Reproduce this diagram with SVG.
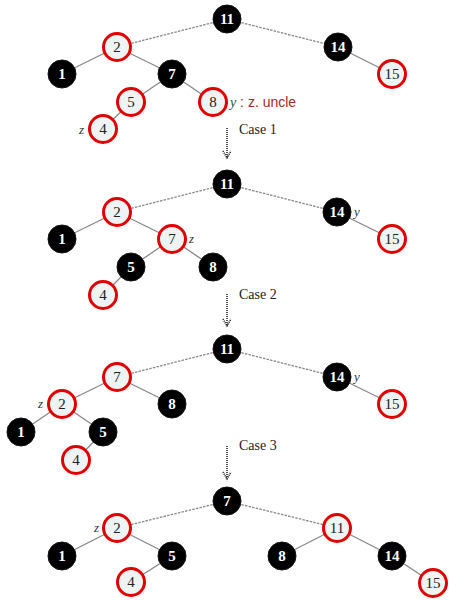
<svg xmlns="http://www.w3.org/2000/svg" width="474" height="602" viewBox="0 0 474 602">
<style>
.b circle{fill:#000;stroke:#111;stroke-width:1}
.r circle{fill:#eef3f3;stroke:#e00000;stroke-width:3}
.b text{fill:#fff;font-family:"Liberation Serif",serif;font-weight:bold;font-size:15px;text-anchor:middle}
.r text{fill:#222;font-family:"Liberation Serif",serif;font-size:15px;text-anchor:middle}
.d{stroke:#888;stroke-width:1.3;stroke-dasharray:2.5 1.2;fill:none}
.s{stroke:#888;stroke-width:1.3;fill:none}
.arr{stroke:#222;stroke-width:1.6;stroke-dasharray:1 1;fill:none}
.lbl{font-family:"Liberation Serif",serif;font-size:13px;fill:#333;font-style:italic}
.case{font-family:"Liberation Serif",serif;font-size:14px;fill:#222}
</style>
<g id="connectors">
<line class="d" x1="227" y1="19" x2="117" y2="47"/>
<line class="d" x1="227" y1="19" x2="338" y2="47"/>
<line class="s" x1="117" y1="47" x2="62" y2="74"/>
<line class="s" x1="117" y1="47" x2="172" y2="74"/>
<line class="s" x1="338" y1="47" x2="392" y2="74"/>
<line class="s" x1="172" y1="74" x2="131" y2="102"/>
<line class="s" x1="172" y1="74" x2="213" y2="102"/>
<line class="s" x1="131" y1="102" x2="103" y2="129"/>
<line class="d" x1="227" y1="184" x2="117" y2="212"/>
<line class="d" x1="227" y1="184" x2="337" y2="212"/>
<line class="s" x1="117" y1="212" x2="62" y2="239"/>
<line class="s" x1="117" y1="212" x2="172" y2="239"/>
<line class="s" x1="337" y1="212" x2="392" y2="239"/>
<line class="s" x1="172" y1="239" x2="131" y2="267"/>
<line class="s" x1="172" y1="239" x2="213" y2="267"/>
<line class="s" x1="131" y1="267" x2="103" y2="295"/>
<line class="d" x1="227" y1="349" x2="117" y2="377"/>
<line class="d" x1="227" y1="349" x2="337" y2="377"/>
<line class="s" x1="117" y1="377" x2="62" y2="404"/>
<line class="s" x1="117" y1="377" x2="172" y2="404"/>
<line class="s" x1="337" y1="377" x2="392" y2="404"/>
<line class="s" x1="62" y1="404" x2="21" y2="432"/>
<line class="s" x1="62" y1="404" x2="103" y2="432"/>
<line class="s" x1="103" y1="432" x2="76" y2="460"/>
<line class="d" x1="227" y1="501" x2="117" y2="528"/>
<line class="d" x1="227" y1="501" x2="337" y2="528"/>
<line class="s" x1="117" y1="528" x2="62" y2="556"/>
<line class="s" x1="117" y1="528" x2="172" y2="556"/>
<line class="s" x1="337" y1="528" x2="282" y2="556"/>
<line class="s" x1="337" y1="528" x2="392" y2="556"/>
<line class="s" x1="172" y1="556" x2="131" y2="582"/>
<line class="s" x1="392" y1="556" x2="433" y2="583"/>
<path class="arr" d="M227 128 V157 M223 151 L227 158 L231 151"/>
<path class="arr" d="M227 294 V325 M223 319 L227 326 L231 319"/>
<path class="arr" d="M227 446 V478 M223 472 L227 479 L231 472"/>
</g>
<g id="t1-11" class="b"><circle cx="227" cy="19" r="14"/><text x="227" y="24">11</text></g>
<g id="t1-2" class="r"><circle cx="117" cy="47" r="13.5"/><text x="117" y="52">2</text></g>
<g id="t1-14" class="b"><circle cx="338" cy="47" r="14"/><text x="338" y="52">14</text></g>
<g id="t1-1" class="b"><circle cx="62" cy="74" r="14"/><text x="62" y="79">1</text></g>
<g id="t1-7" class="b"><circle cx="172" cy="74" r="14"/><text x="172" y="79">7</text></g>
<g id="t1-15" class="r"><circle cx="392" cy="74" r="13.5"/><text x="392" y="79">15</text></g>
<g id="t1-5" class="r"><circle cx="131" cy="102" r="13.5"/><text x="131" y="107">5</text></g>
<g id="t1-8" class="r"><circle cx="213" cy="102" r="13.5"/><text x="213" y="107">8</text></g>
<g id="t1-4" class="r"><circle cx="103" cy="129" r="13.5"/><text x="103" y="134">4</text></g>
<text class="lbl" x="79" y="134">z</text>
<text x="230" y="107" style="font-family:'Liberation Sans',sans-serif;font-size:14px"><tspan style="font-family:'Liberation Serif',serif;font-style:italic;fill:#335533">y</tspan><tspan fill="#9c2b2b"> : z. uncle</tspan></text>
<text class="case" x="239" y="134">Case 1</text>
<g id="t2-11" class="b"><circle cx="227" cy="184" r="14"/><text x="227" y="189">11</text></g>
<g id="t2-2" class="r"><circle cx="117" cy="212" r="13.5"/><text x="117" y="217">2</text></g>
<g id="t2-14" class="b"><circle cx="337" cy="212" r="14"/><text x="337" y="217">14</text></g>
<g id="t2-1" class="b"><circle cx="62" cy="239" r="14"/><text x="62" y="244">1</text></g>
<g id="t2-7" class="r"><circle cx="172" cy="239" r="13.5"/><text x="172" y="244">7</text></g>
<g id="t2-15" class="r"><circle cx="392" cy="239" r="13.5"/><text x="392" y="244">15</text></g>
<g id="t2-5" class="b"><circle cx="131" cy="267" r="14"/><text x="131" y="272">5</text></g>
<g id="t2-8" class="b"><circle cx="213" cy="267" r="14"/><text x="213" y="272">8</text></g>
<g id="t2-4" class="r"><circle cx="103" cy="295" r="13.5"/><text x="103" y="300">4</text></g>
<text class="lbl" x="189" y="243">z</text>
<text class="lbl" x="354" y="216">y</text>
<text class="case" x="239" y="299">Case 2</text>
<g id="t3-11" class="b"><circle cx="227" cy="349" r="14"/><text x="227" y="354">11</text></g>
<g id="t3-7" class="r"><circle cx="117" cy="377" r="13.5"/><text x="117" y="382">7</text></g>
<g id="t3-14" class="b"><circle cx="337" cy="377" r="14"/><text x="337" y="382">14</text></g>
<g id="t3-2" class="r"><circle cx="62" cy="404" r="13.5"/><text x="62" y="409">2</text></g>
<g id="t3-8" class="b"><circle cx="172" cy="404" r="14"/><text x="172" y="409">8</text></g>
<g id="t3-15" class="r"><circle cx="392" cy="404" r="13.5"/><text x="392" y="409">15</text></g>
<g id="t3-1" class="b"><circle cx="21" cy="432" r="14"/><text x="21" y="437">1</text></g>
<g id="t3-5" class="b"><circle cx="103" cy="432" r="14"/><text x="103" y="437">5</text></g>
<g id="t3-4" class="r"><circle cx="76" cy="460" r="13.5"/><text x="76" y="465">4</text></g>
<text class="lbl" x="38" y="408">z</text>
<text class="lbl" x="354" y="381">y</text>
<text class="case" x="239" y="450">Case 3</text>
<g id="t4-7" class="b"><circle cx="227" cy="501" r="14"/><text x="227" y="506">7</text></g>
<g id="t4-2" class="r"><circle cx="117" cy="528" r="13.5"/><text x="117" y="533">2</text></g>
<g id="t4-11" class="r"><circle cx="337" cy="528" r="13.5"/><text x="337" y="533">11</text></g>
<g id="t4-1" class="b"><circle cx="62" cy="556" r="14"/><text x="62" y="561">1</text></g>
<g id="t4-5" class="b"><circle cx="172" cy="556" r="14"/><text x="172" y="561">5</text></g>
<g id="t4-8" class="b"><circle cx="282" cy="556" r="14"/><text x="282" y="561">8</text></g>
<g id="t4-14" class="b"><circle cx="392" cy="556" r="14"/><text x="392" y="561">14</text></g>
<g id="t4-4" class="r"><circle cx="131" cy="582" r="13.5"/><text x="131" y="587">4</text></g>
<g id="t4-15" class="r"><circle cx="433" cy="583" r="13.5"/><text x="433" y="588">15</text></g>
<text class="lbl" x="94" y="532">z</text>
</svg>
